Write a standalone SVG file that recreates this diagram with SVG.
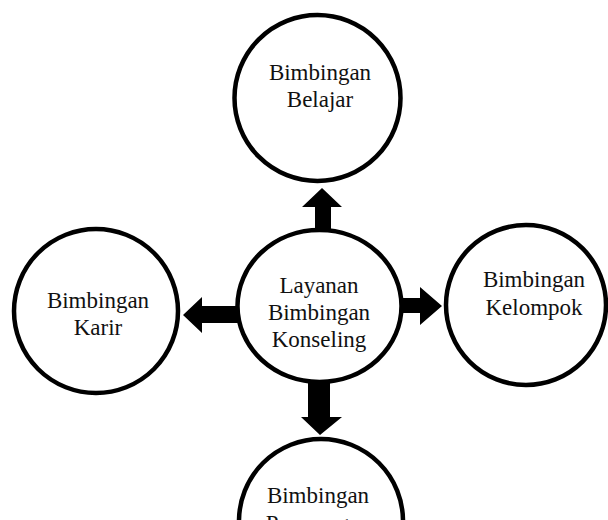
<svg xmlns="http://www.w3.org/2000/svg" width="608" height="520" viewBox="0 0 608 520">
<style>
.node{fill:#fff;stroke:#000;stroke-width:4.5}
.lbl{font-family:"Liberation Serif","Times New Roman",serif;font-size:23px;fill:#111;text-anchor:middle}
.arr{fill:#000;stroke:none}
</style>
<rect width="608" height="520" fill="#fff"/>
<g id="connectors">
<polygon class="arr" points="315,240 315,207 302,207 322,188 342,207 331,207 331,240"/>
<polygon class="arr" points="390,298 420,298 420,287 442,306 420,325 420,313 390,313"/>
<polygon class="arr" points="250,306 202,306 202,297 183,315 202,333 202,323 250,323"/>
<polygon class="arr" points="308,370 330,370 330,417 342,417 320,435 301,417 308,417"/>
</g>
<g id="center">
<ellipse class="node" cx="319.5" cy="306" rx="82" ry="76"/>
<text class="lbl" x="319" y="293">Layanan</text>
<text class="lbl" x="319" y="320">Bimbingan</text>
<text class="lbl" x="319" y="347">Konseling</text>
</g>
<g id="belajar">
<circle class="node" cx="317.5" cy="98" r="83"/>
<text class="lbl" x="320" y="80">Bimbingan</text>
<text class="lbl" x="320" y="107">Belajar</text>
</g>
<g id="karir">
<circle class="node" cx="96" cy="311" r="82"/>
<text class="lbl" x="98" y="308">Bimbingan</text>
<text class="lbl" x="98" y="335">Karir</text>
</g>
<g id="kelompok">
<circle class="node" cx="526" cy="305" r="80"/>
<text class="lbl" x="534" y="287">Bimbingan</text>
<text class="lbl" x="534" y="315">Kelompok</text>
</g>
<g id="perorangan">
<circle class="node" cx="321" cy="521" r="82"/>
<text class="lbl" x="318" y="503">Bimbingan</text>
<text class="lbl" x="318" y="531">Perorangan</text>
</g>
</svg>
